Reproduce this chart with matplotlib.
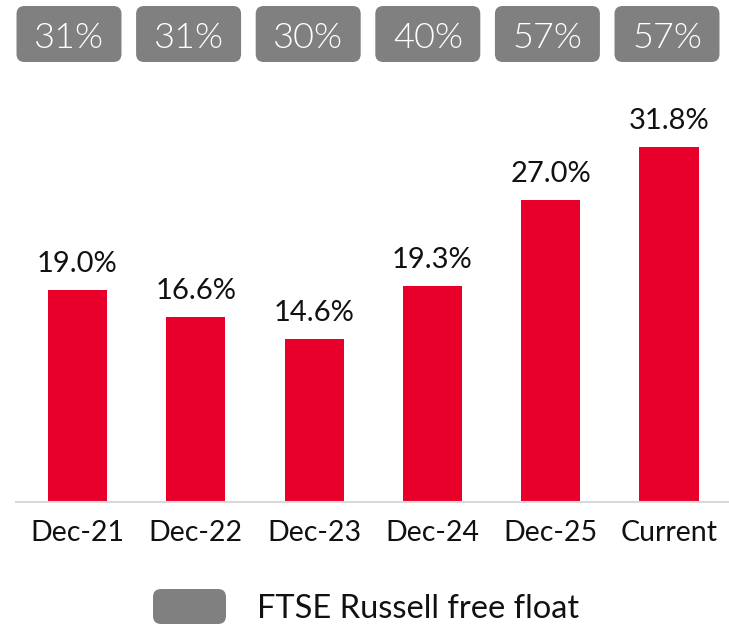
import matplotlib
matplotlib.use("Agg")
import matplotlib.pyplot as plt
from matplotlib.patches import FancyBboxPatch

# chart data
categories = ["Dec-21", "Dec-22", "Dec-23", "Dec-24", "Dec-25", "Current"]
values = [19.0, 16.6, 14.6, 19.3, 27.0, 31.8]
free_float = ["31%", "31%", "30%", "40%", "57%", "57%"]
legend_label = "FTSE Russell free float"

RED = "#E8002A"
GREY = "#808080"
FONT = "Lato"

W, H = 729, 627


def px_box(fig, x0, y0, w, h, color, radius=8):
    """Rounded box in pixel coords measured from the top-left corner."""
    patch = FancyBboxPatch(
        (x0 / 100, (H - y0 - h) / 100), w / 100, h / 100,
        boxstyle="round,pad=0,rounding_size={}".format(radius / 100),
        transform=fig.dpi_scale_trans, facecolor=color, edgecolor="none",
        zorder=1)
    fig.patches.append(patch)


def main():
    plt.rcParams["font.family"] = [FONT, "DejaVu Sans"]
    fig = plt.figure(figsize=(W / 100, H / 100), dpi=100)

    # axes: baseline at y=502px, 11.17 px per percentage point
    ax = fig.add_axes([16 / W, (H - 502) / H, (W - 16) / W, 502 / H])
    x = list(range(len(categories)))
    ax.bar(x, values, width=0.5, color=RED, zorder=2)
    ax.set_xlim((16 - 77.5) / 118.3, (W - 77.5) / 118.3)
    ax.set_ylim(0, 502 / 11.17)

    for xi, v in zip(x, values):
        ax.annotate("{:.1f}%".format(v), (xi, v), xytext=(0, 13),
                    textcoords="offset points", ha="center", va="baseline",
                    fontsize=21, color="#111111")

    for side in ("left", "right", "top"):
        ax.spines[side].set_visible(False)
    ax.spines["bottom"].set_color("#D9D9D9")
    ax.spines["bottom"].set_linewidth(1.5)
    ax.set_yticks([])
    ax.set_xticks(x)
    ax.set_xticklabels(categories, fontsize=20.5, color="#111111")
    ax.tick_params(axis="x", length=0, pad=13)

    # free float boxes along the top
    for i, label in enumerate(free_float):
        cx = 69 + 119.6 * i
        px_box(fig, cx - 52.5, 6, 105, 56, GREY)
        fig.text(cx / W, 1 - 48 / H, label, ha="center", va="baseline",
                 fontsize=26, color="white", fontweight=300, zorder=5)

    # legend
    px_box(fig, 153, 589, 73, 35, GREY)
    fig.text(257 / W, 1 - 618 / H, legend_label, ha="left", va="baseline",
             fontsize=23.5, color="#111111")

    fig.savefig("out.png", dpi=100)


if __name__ == "__main__":
    main()
